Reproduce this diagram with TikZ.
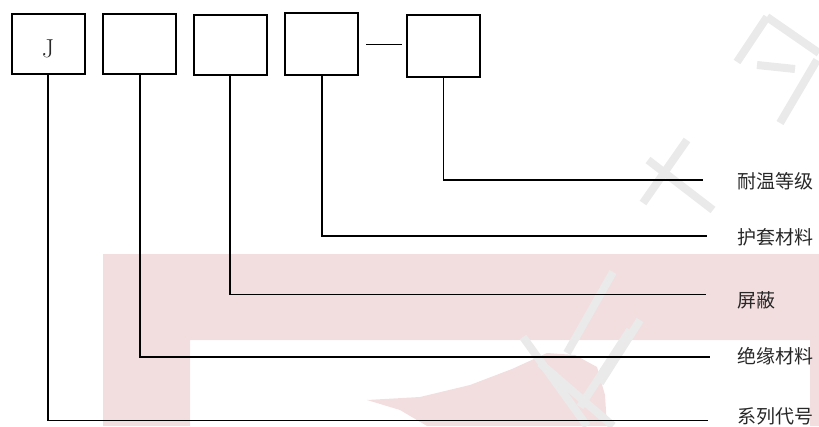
\documentclass[tikz,border=0pt]{standalone}
\usepackage{fontspec}
\newfontfamily\cjk{Noto Sans CJK SC}
\definecolor{bandpink}{RGB}{242,222,223}
\definecolor{markgrey}{RGB}{234,234,234}
\definecolor{labelink}{RGB}{40,40,40}
\begin{document}
\begin{tikzpicture}[x=1pt,y=-1pt,
  codebox/.style={draw=black,line width=2pt,minimum width=73pt,minimum height=60pt,inner sep=0pt},
  lead/.style={draw=black,line width=1.6pt},
  caption/.style={anchor=west,inner sep=0pt,text=labelink,font=\cjk\fontsize{19pt}{21pt}\selectfont},
  faint/.style={draw=markgrey,line width=8pt,line cap=butt}]
\useasboundingbox (0,0) rectangle (819,426);

% background band
\fill[bandpink] (103,254) -- (819,254) -- (819,426) -- (810,426) -- (810,340)
  -- (190,340) -- (190,426) -- (103,426) -- cycle;
\fill[bandpink] (367,400) -- (420,397) -- (470,385) -- (512,369) -- (547,353)
  -- (575,355) -- (597,367) -- (605,395) -- (607,426) -- (427,426) -- (400,410) -- cycle;

% faint background strokes
\draw[faint] (767,17) -- (737,62);
\draw[faint] (767,17) -- (819,53);
\draw[faint] (757,65) -- (795,69);
\draw[faint] (817,60) -- (780,123);
\draw[faint] (687,140) -- (643,203);
\draw[faint] (648,160) -- (713,210);
\draw[faint] (613,272) -- (567,353);
\draw[faint] (640,320) -- (600,383);
\draw[faint] (523,337) -- (587,426);
\draw[faint] (630,330) -- (580,407);
\draw[faint] (540,363) -- (613,426);

% code boxes
\node[codebox] (b1) at (48,44) {};
\node[codebox] (b2) at (139.7,43.5) {};
\node[codebox] (b3) at (230,44.7) {};
\node[codebox,minimum height=62pt] (b4) at (321.7,44.3) {};
\node[codebox,minimum height=62pt] (b5) at (443.5,46.2) {};
\node[anchor=base,inner sep=0pt,font=\fontsize{26pt}{28pt}\selectfont,text=labelink] (j) at (48,57) {J};

% dash between the last two boxes
\draw[lead] ([xshift=7pt]b4.east) -- ([xshift=-4pt]b4.east -| b5.west);

% line ends and captions
\coordinate (e5) at (703,180);
\coordinate (e4) at (707,236);
\coordinate (e3) at (706,294.5);
\coordinate (e2) at (710,357);
\coordinate (e1) at (708,420.5);

\node[caption] (t5) at (737,181) {耐温等级};
\node[caption] (t4) at (737,237) {护套材料};
\node[caption] (t3) at (737,300) {屏蔽};
\node[caption] (t2) at (737,356.5) {绝缘材料};
\node[caption] (t1) at (737,416.5) {系列代号};

% leaders
\draw[lead] (b5.south) |- (e5);
\draw[lead] (b4.south) |- (e4);
\draw[lead] (b3.south) |- (e3);
\draw[lead] (b2.south) |- (e2);
\draw[lead] (b1.south) |- (e1);
\end{tikzpicture}
\end{document}
